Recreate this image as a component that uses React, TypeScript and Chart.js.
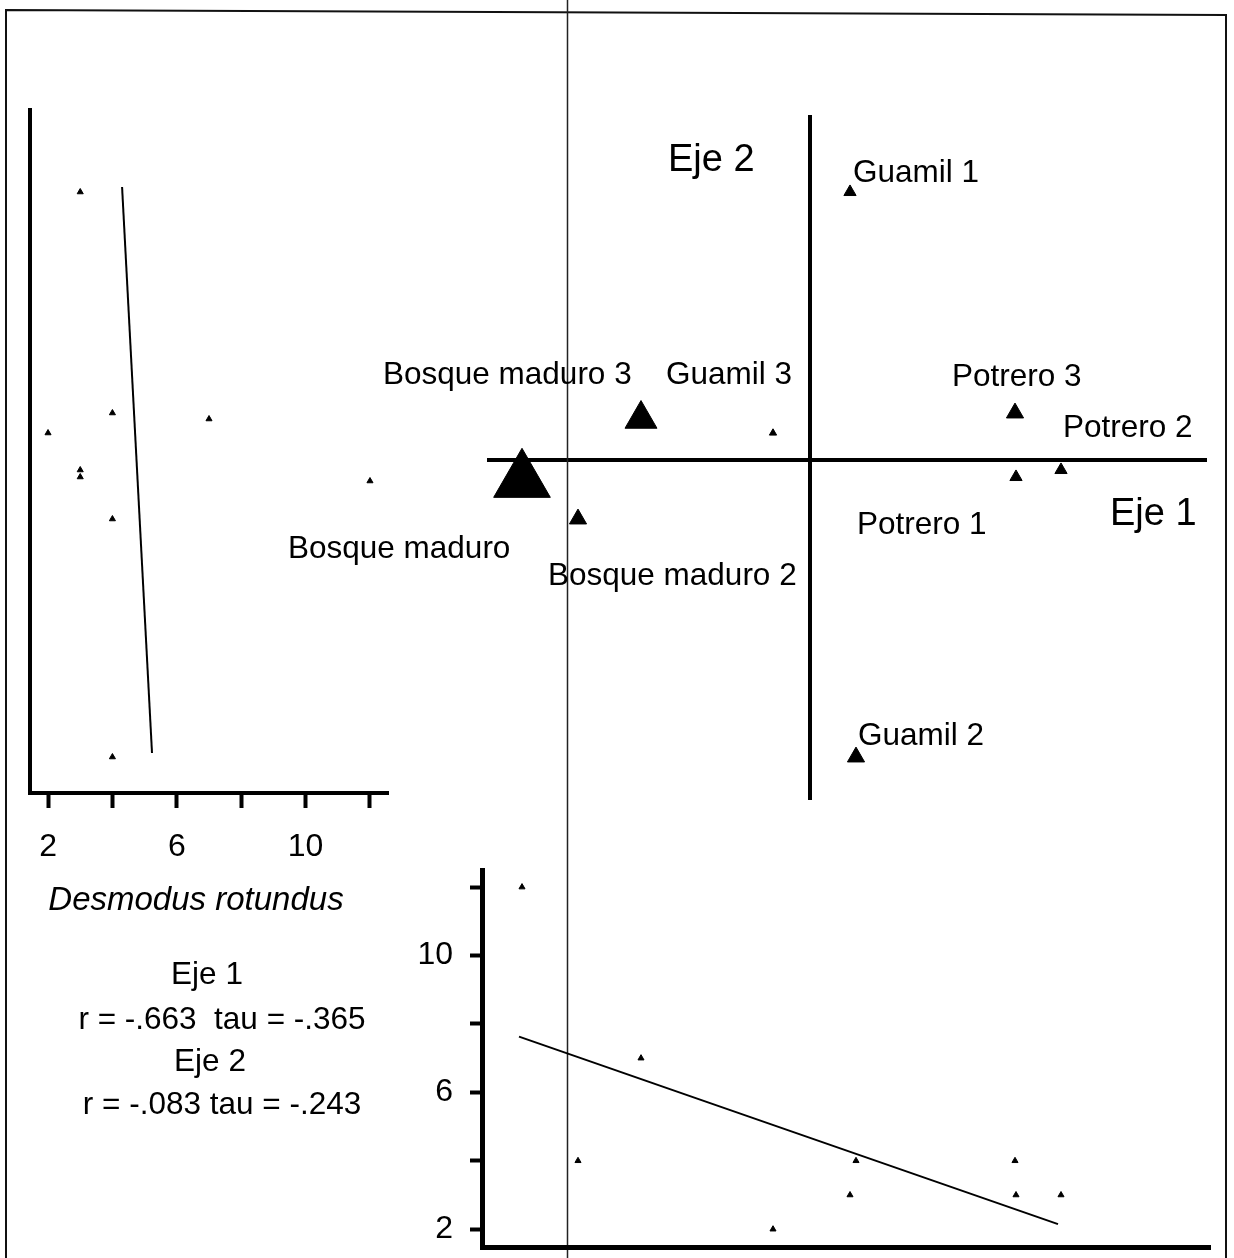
import React, { useEffect, useRef } from "react";
import { Chart, registerables } from "chart.js";

Chart.register(...registerables);

// ---------- data ----------
const sites = [
  "Guamil 1",
  "Guamil 2",
  "Guamil 3",
  "Bosque maduro",
  "Bosque maduro 2",
  "Bosque maduro 3",
  "Potrero 1",
  "Potrero 2",
  "Potrero 3",
];
const eje1Scores = [0.4, 0.46, -0.37, -2.88, -2.32, -1.69, 2.06, 2.51, 2.05];
const eje2Scores = [2.68, -2.97, 0.27, -0.21, -0.59, 0.41, -0.17, -0.1, 0.47];
const desmodusCounts = [3, 4, 2, 12, 4, 7, 3, 3, 4];
const countTickLabels = [2, 6, 10];
const fitEje2Counts = [4.3, 5.23];
const fitEje2Scores = [2.73, -2.93];
const fitEje1Scores = [-2.91, 2.48];
const fitEje1Counts = [7.63, 2.15];
const speciesName = "Desmodus rotundus";
const statLines = [
  "Eje 1",
  "r = -.663  tau = -.365",
  "Eje 2",
  "r = -.083 tau = -.243",
];

// ---------- layout / style ----------
const FONT = "'Liberation Sans', Arial, Helvetica, sans-serif";
const labelOffsets: [number, number][] = [
  [3, -19],
  [2, -21],
  [-107, -58],
  [-234, 68],
  [-30, 57],
  [-258, -44],
  [-159, 48],
  [2, -42],
  [-63, -36],
];
const statPositions: [number, number][] = [
  [207, 975],
  [222, 1020],
  [210, 1062],
  [222, 1105],
];

const zeroPad = (s: any) => {
  s.paddingLeft = 0;
  s.paddingRight = 0;
  s.paddingTop = 0;
  s.paddingBottom = 0;
};

const mainPlugin = {
  id: "mainDecor",
  beforeDraw(chart: any) {
    const { ctx } = chart;
    ctx.save();
    ctx.fillStyle = "#fff";
    ctx.fillRect(0, 0, chart.width, chart.height);
    ctx.restore();
  },
  beforeDatasetsDraw(chart: any) {
    const { ctx, chartArea } = chart;
    const x0 = chart.scales.x.getPixelForValue(0);
    const y0 = chart.scales.y.getPixelForValue(0);
    ctx.save();
    ctx.strokeStyle = "#000";
    ctx.lineWidth = 4;
    ctx.beginPath();
    ctx.moveTo(chartArea.left, y0);
    ctx.lineTo(chartArea.right, y0);
    ctx.moveTo(x0, chartArea.top);
    ctx.lineTo(x0, chartArea.bottom);
    ctx.stroke();
    ctx.restore();
  },
  afterDraw(chart: any) {
    const { ctx, chartArea } = chart;
    const xs = chart.scales.x;
    const ys = chart.scales.y;
    ctx.save();
    // frame
    ctx.strokeStyle = "#111";
    ctx.lineWidth = 2;
    ctx.beginPath();
    ctx.moveTo(6, 1258);
    ctx.lineTo(6, 10);
    ctx.lineTo(1226, 15);
    ctx.lineTo(1226, 1258);
    ctx.stroke();
    // scan line
    ctx.lineWidth = 1.5;
    ctx.strokeStyle = "#222";
    ctx.beginPath();
    ctx.moveTo(567.5, 0);
    ctx.lineTo(567.5, 1258);
    ctx.stroke();

    ctx.fillStyle = "#000";
    ctx.textBaseline = "middle";
    ctx.textAlign = "left";
    // site labels
    ctx.font = `31.5px ${FONT}`;
    const meta = chart.getDatasetMeta(0);
    sites.forEach((name, i) => {
      const p = meta.data[i];
      const [dx, dy] = labelOffsets[i];
      ctx.fillText(name, p.x + dx, p.y + dy);
    });
    // axis names
    ctx.font = `38px ${FONT}`;
    const x0 = xs.getPixelForValue(0);
    const y0 = ys.getPixelForValue(0);
    ctx.fillText("Eje 2", x0 - 142, chartArea.top + 46);
    ctx.fillText("Eje 1", chartArea.right - 97, y0 + 55);
    // statistics
    ctx.font = `31.5px ${FONT}`;
    ctx.textAlign = "center";
    statLines.forEach((t, i) => {
      const [sx, sy] = statPositions[i];
      ctx.fillText(t, sx, sy);
    });
    ctx.restore();
  },
};

const leftTitlePlugin = {
  id: "leftTitle",
  afterDraw(chart: any) {
    const { ctx, chartArea } = chart;
    ctx.save();
    ctx.fillStyle = "#000";
    ctx.font = `italic 33px ${FONT}`;
    ctx.textAlign = "center";
    ctx.textBaseline = "middle";
    ctx.fillText(speciesName, chartArea.left + 166, chartArea.bottom + 108);
    ctx.restore();
  },
};

export default function App() {
  const mainRef = useRef<HTMLCanvasElement>(null);
  const leftRef = useRef<HTMLCanvasElement>(null);
  const bottomRef = useRef<HTMLCanvasElement>(null);

  useEffect(() => {
    const charts: Chart[] = [];

    charts.push(
      new Chart(mainRef.current!, {
        type: "scatter",
        data: {
          datasets: [
            {
              data: eje1Scores.map((x, i) => ({ x, y: eje2Scores[i] })),
              pointStyle: "triangle",
              pointRadius: desmodusCounts.map((c) => 2.85 * c - 1.5),
              backgroundColor: "#000",
              borderColor: "#000",
              borderWidth: 1,
              clip: false,
            } as any,
          ],
        },
        options: {
          animation: false,
          responsive: false,
          devicePixelRatio: 1,
          events: [],
          layout: {
            autoPadding: false,
            padding: { left: 487, right: 27, top: 115, bottom: 458 },
          },
          plugins: { legend: { display: false }, tooltip: { enabled: false } },
          scales: {
            x: { type: "linear", min: -3.23, max: 3.97, display: false },
            y: { type: "linear", min: -3.4, max: 3.45, display: false },
          },
        },
        plugins: [mainPlugin],
      })
    );

    charts.push(
      new Chart(leftRef.current!, {
        type: "scatter",
        data: {
          datasets: [
            {
              data: desmodusCounts.map((c, i) => ({ x: c, y: eje2Scores[i] })),
              pointStyle: "triangle",
              pointRadius: 3.5,
              backgroundColor: "#000",
              borderColor: "#000",
              borderWidth: 1,
            },
            {
              data: fitEje2Counts.map((x, i) => ({ x, y: fitEje2Scores[i] })),
              showLine: true,
              pointRadius: 0,
              borderColor: "#000",
              borderWidth: 2,
            } as any,
          ],
        },
        options: {
          animation: false,
          responsive: false,
          devicePixelRatio: 1,
          events: [],
          layout: {
            autoPadding: false,
            padding: { left: 0, right: 12, top: 110, bottom: 0 },
          },
          plugins: { legend: { display: false }, tooltip: { enabled: false } },
          scales: {
            x: {
              type: "linear",
              position: "bottom",
              min: 1.44,
              max: 12.56,
              ticks: {
                stepSize: 2,
                includeBounds: false,
                autoSkip: false,
                maxRotation: 0,
                padding: 20,
                color: "#000",
                font: { family: FONT, size: 32 },
                callback: (v: any) => (countTickLabels.includes(Number(v)) ? String(v) : ""),
              },
              grid: {
                display: true,
                drawOnChartArea: false,
                drawTicks: true,
                tickLength: 15,
                tickWidth: 4,
                tickColor: "#000",
                color: "#000",
              },
              border: { display: true, color: "#000", width: 4 },
              afterFit: (s: any) => {
                s.height = 130;
                zeroPad(s);
              },
            } as any,
            y: {
              type: "linear",
              min: -3.33,
              max: 3.5,
              grid: { display: false },
              ticks: { display: false },
              border: { display: true, color: "#000", width: 4 },
              afterFit: (s: any) => {
                s.width = 30;
                zeroPad(s);
              },
            },
          },
        },
        plugins: [leftTitlePlugin],
      })
    );

    charts.push(
      new Chart(bottomRef.current!, {
        type: "scatter",
        data: {
          datasets: [
            {
              data: eje1Scores.map((x, i) => ({ x, y: desmodusCounts[i] })),
              pointStyle: "triangle",
              pointRadius: 3.5,
              backgroundColor: "#000",
              borderColor: "#000",
              borderWidth: 1,
            },
            {
              data: fitEje1Scores.map((x, i) => ({ x, y: fitEje1Counts[i] })),
              showLine: true,
              pointRadius: 0,
              borderColor: "#000",
              borderWidth: 2,
            } as any,
          ],
        },
        options: {
          animation: false,
          responsive: false,
          devicePixelRatio: 1,
          events: [],
          layout: {
            autoPadding: false,
            padding: { left: 0, right: 10, top: 10, bottom: 0 },
          },
          plugins: { legend: { display: false }, tooltip: { enabled: false } },
          scales: {
            x: {
              type: "linear",
              min: -3.28,
              max: 4.0,
              grid: { display: false },
              ticks: { display: false },
              border: { display: true, color: "#000", width: 5 },
              afterFit: (s: any) => {
                s.height = 11;
                zeroPad(s);
              },
            },
            y: {
              type: "linear",
              min: 1.48,
              max: 12.5,
              ticks: {
                stepSize: 2,
                includeBounds: false,
                autoSkip: false,
                padding: 17,
                color: "#000",
                font: { family: FONT, size: 32 },
                callback: (v: any) => (countTickLabels.includes(Number(v)) ? String(v) : ""),
              },
              grid: {
                display: true,
                drawOnChartArea: false,
                drawTicks: true,
                tickLength: 12,
                tickWidth: 4,
                tickColor: "#000",
                color: "#000",
              },
              border: { display: true, color: "#000", width: 5 },
              afterFit: (s: any) => {
                s.width = 102;
                zeroPad(s);
              },
            } as any,
          },
        },
      })
    );

    return () => charts.forEach((c) => c.destroy());
  }, []);

  return (
    <div
      style={{
        position: "absolute",
        left: 0,
        top: 0,
        width: 1234,
        height: 1258,
        overflow: "hidden",
        background: "#fff",
      }}
    >
      <canvas
        ref={mainRef}
        width={1234}
        height={1258}
        style={{ position: "absolute", left: 0, top: 0, width: 1234, height: 1258 }}
      />
      <canvas
        ref={leftRef}
        width={400}
        height={923}
        style={{ position: "absolute", left: 0, top: 0, width: 400, height: 923 }}
      />
      <canvas
        ref={bottomRef}
        width={840}
        height={398}
        style={{ position: "absolute", left: 380, top: 860, width: 840, height: 398 }}
      />
    </div>
  );
}
